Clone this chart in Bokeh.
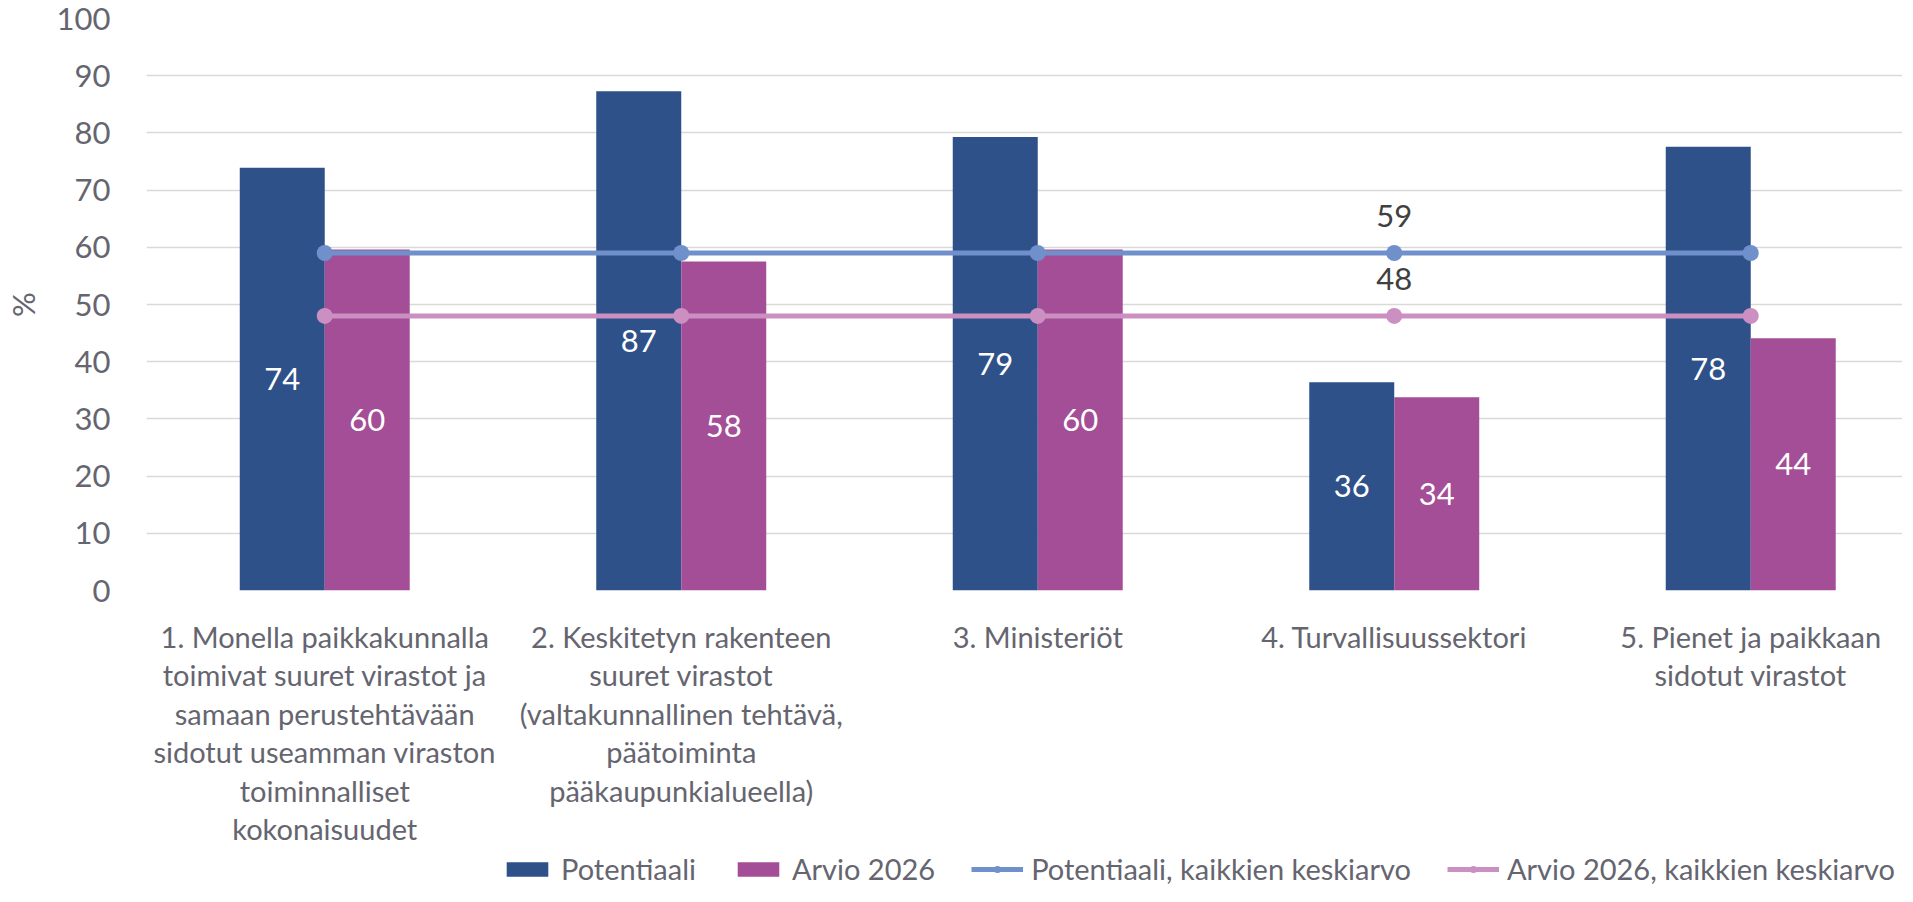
from bokeh.plotting import figure
from bokeh.layouts import column
from bokeh.models import (ColumnDataSource, Range1d, FixedTicker, LabelSet, Legend, LegendItem)
from bokeh.core.properties import value
from bokeh.transform import dodge
from bokeh.embed import file_html
from bokeh.resources import INLINE

# ---- data ----
categories = [
    "1. Monella paikkakunnalla\ntoimivat suuret virastot ja\nsamaan perustehtävään\nsidotut useamman viraston\ntoiminnalliset\nkokonaisuudet",
    "2. Keskitetyn rakenteen\nsuuret virastot\n(valtakunnallinen tehtävä,\npäätoiminta\npääkaupunkialueella)",
    "3. Ministeriöt",
    "4. Turvallisuussektori",
    "5. Pienet ja paikkaan\nsidotut virastot",
]
potentiaali = [73.9, 87.3, 79.3, 36.4, 77.6]
arvio_2026 = [59.6, 57.5, 59.6, 33.8, 44.1]
potentiaali_avg = 59
arvio_avg = 48
y_ticks = [0, 10, 20, 30, 40, 50, 60, 70, 80, 90, 100]
series_names = ["Potentiaali", "Arvio 2026",
                "Potentiaali, kaikkien keskiarvo", "Arvio 2026, kaikkien keskiarvo"]

BLUE = "#2F5189"
PINK = "#A34E96"
LBLUE = "#7090CC"
LPINK = "#CC8FC2"
TXT = "#65656F"
FONT = "Lato"

pos = [i + 0.5 for i in range(len(categories))]
src = ColumnDataSource(dict(
    x=pos,
    pot=potentiaali,
    arv=arvio_2026,
    pot_mid=[v / 2 for v in potentiaali],
    arv_mid=[v / 2 for v in arvio_2026],
    pot_lbl=["%.0f" % v for v in potentiaali],
    arv_lbl=["%.0f" % v for v in arvio_2026],
    pavg=[potentiaali_avg] * len(categories),
    aavg=[arvio_avg] * len(categories),
))

p = figure(frame_width=1756, frame_height=572, output_backend="svg", toolbar_location=None,
           x_range=Range1d(0, 4.9257), y_range=Range1d(0, 100),
           min_border_left=141, min_border_right=0, min_border_top=18, min_border_bottom=258)
p.outline_line_color = None
p.background_fill_color = "white"

bw = 0.2384
p.vbar(x=dodge("x", -bw / 2, range=p.x_range), top="pot", width=bw, source=src,
       fill_color=BLUE, line_color=None)
p.vbar(x=dodge("x", bw / 2, range=p.x_range), top="arv", width=bw, source=src,
       fill_color=PINK, line_color=None)
p.line("x", "pavg", source=src, line_color=LBLUE, line_width=5)
p.scatter("x", "pavg", source=src, size=16, fill_color=LBLUE, line_color=None)
p.line("x", "aavg", source=src, line_color=LPINK, line_width=5)
p.scatter("x", "aavg", source=src, size=16, fill_color=LPINK, line_color=None)

# bar value labels
for ycol, tcol, off in [("pot_mid", "pot_lbl", -bw / 2), ("arv_mid", "arv_lbl", bw / 2)]:
    p.add_layout(LabelSet(x=dodge("x", off, range=p.x_range), y=ycol, text=tcol, source=src,
                          text_align="center", text_baseline="middle", text_color="white",
                          text_font=value(FONT), text_font_size=value("31px")))

# average labels (only at category 4)
avg_src = ColumnDataSource(dict(x=[pos[3], pos[3]], y=[potentiaali_avg, arvio_avg],
                                t=[str(potentiaali_avg), str(arvio_avg)]))
p.add_layout(LabelSet(x="x", y="y", text="t", source=avg_src, y_offset=37,
                      text_align="center", text_baseline="middle", text_color="#404040",
                      text_font=value(FONT), text_font_size=value("31px")))

# axes
p.yaxis.ticker = FixedTicker(ticks=y_ticks)
p.yaxis.axis_line_color = None
p.yaxis.major_tick_line_color = None
p.yaxis.minor_tick_line_color = None
p.yaxis.major_tick_out = 0
p.yaxis.major_label_text_font = FONT
p.yaxis.major_label_text_font_size = "31px"
p.yaxis.major_label_text_color = TXT
p.yaxis.major_label_standoff = 36
p.yaxis.axis_label = "%"
p.yaxis.axis_label_text_font = FONT
p.yaxis.axis_label_text_font_size = "31px"
p.yaxis.axis_label_text_font_style = "normal"
p.yaxis.axis_label_text_color = TXT
p.yaxis.axis_label_standoff = 12

p.xaxis.ticker = FixedTicker(ticks=pos)
p.xaxis.major_label_overrides = {pp: c for pp, c in zip(pos, categories)}
p.xaxis.axis_line_color = None
p.xaxis.major_tick_line_color = None
p.xaxis.minor_tick_line_color = None
p.xaxis.major_tick_out = 0
p.xaxis.major_tick_in = 0
p.xaxis.major_label_text_font = FONT
p.xaxis.major_label_text_font_size = "29px"
p.xaxis.major_label_text_color = TXT
p.xaxis.major_label_text_line_height = 1.1
p.xaxis.major_label_standoff = 28

p.xgrid.grid_line_color = None
p.ygrid.grid_line_color = "#D9D9D9"
p.ygrid.grid_line_width = 1.5

# ---- legend strip below the chart (same series, drawn outside its visible range) ----
lg = figure(frame_width=1897, frame_height=38, output_backend="svg", toolbar_location=None,
            x_range=Range1d(0, 5), y_range=Range1d(1000, 1001),
            x_axis_location=None, y_axis_location=None, min_border=0)
lg.outline_line_color = None
lg.xgrid.grid_line_color = None
lg.ygrid.grid_line_color = None
g1 = lg.vbar(x="x", top="pot", width=bw, source=src, fill_color=BLUE, line_color=None)
g2 = lg.vbar(x="x", top="arv", width=bw, source=src, fill_color=PINK, line_color=None)
g3l = lg.line("x", "pavg", source=src, line_color=LBLUE, line_width=5)
g3m = lg.scatter("x", "pavg", source=src, size=16, fill_color=LBLUE, line_color=None)
g4l = lg.line("x", "aavg", source=src, line_color=LPINK, line_width=5)
g4m = lg.scatter("x", "aavg", source=src, size=16, fill_color=LPINK, line_color=None)

legend = Legend(items=[
    LegendItem(label=series_names[0], renderers=[g1]),
    LegendItem(label=series_names[1], renderers=[g2]),
    LegendItem(label=series_names[2], renderers=[g3l, g3m]),
    LegendItem(label=series_names[3], renderers=[g4l, g4m]),
], orientation="horizontal", location=(501, 1), glyph_width=52, glyph_height=18,
    label_standoff=8, spacing=36, padding=0, margin=0,
    border_line_color=None, background_fill_alpha=0,
    label_text_font=FONT, label_text_font_size="29px", label_text_color=TXT)
lg.add_layout(legend, "center")

layout = column(p, lg, spacing=0)
open("out.html", "w").write(file_html(layout, INLINE))
